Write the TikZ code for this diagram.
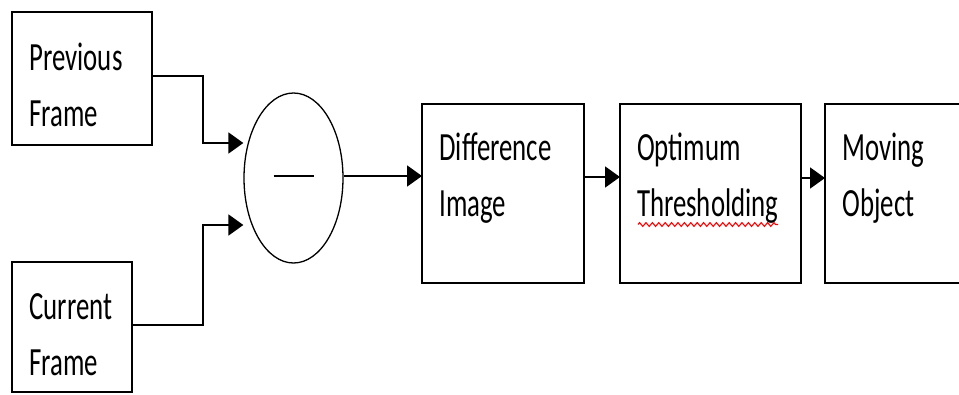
\documentclass[tikz,border=0pt]{standalone}
\usepackage{fontspec}
\setmainfont{Carlito}[FakeStretch=0.67]
\usetikzlibrary{arrows.meta,calc,shapes.geometric,decorations.pathmorphing}

\begin{document}
\begin{tikzpicture}[x=1pt,y=-1pt,
  block/.style={draw=black, line width=2pt, rectangle, anchor=north west,
                inner sep=0pt, outer sep=0pt},
  lbl/.style={anchor=base west, inner sep=0pt, outer sep=0pt,
              font=\fontsize{40}{56}\selectfont},
  wire/.style={draw=black, line width=2pt},
  flow/.style={wire, -{Triangle[length=15pt,width=21pt]}},
  squiggle/.style={draw=red, line width=1.1pt, decorate,
                   decoration={zigzag, segment length=6.4pt, amplitude=1.9pt}}]
\useasboundingbox (0,0) rectangle (959,394);
\clip (0,0) rectangle (959,394);

% input frames
\node[block, minimum width=140pt, minimum height=133pt] (prev) at (12,12) {};
\node[block, minimum width=120pt, minimum height=130pt] (curr) at (12,262) {};

% subtraction stage
\node[draw=black, line width=1.3pt, ellipse, inner sep=0pt,
      minimum width=99pt, minimum height=170pt] (ell) at (293.5,178) {};
\draw[line width=2pt] ($(ell.center)+(-20,-2)$) -- ($(ell.center)+(20,-2)$);

% processing chain
\node[block, minimum width=162pt, minimum height=179pt] (diff) at (422,104) {};
\node[block, minimum width=181pt, minimum height=179pt] (opt) at (620,104) {};
\node[block, minimum width=160pt, minimum height=179pt] (mov) at (825,104) {};

% labels
\node[lbl] (prevA) at ($(prev.north west)+(17.5,58)$) {Previous};
\node[lbl] (prevB) at ($(prevA.base west)+(0,56)$) {Frame};
\node[lbl] (currA) at ($(curr.north west)+(17.5,57)$) {Current};
\node[lbl] (currB) at ($(currA.base west)+(0,56)$) {Frame};
\node[lbl] (diffA) at ($(diff.north west)+(17.5,56.5)$) {Difference};
\node[lbl] (diffB) at ($(diffA.base west)+(0,56)$) {Image};
\node[lbl] (optA) at ($(opt.north west)+(17,56.5)$) {Optimum};
\node[lbl] (optB) at ($(optA.base west)+(0,56)$) {Thresholding};
\node[lbl] (movA) at ($(mov.north west)+(17.5,56.5)$) {Moving};
\node[lbl] (movB) at ($(movA.base west)+(0,56)$) {Object};

% spell-check underline
\draw[squiggle] ($(optB.base west)+(1,8)$) -- ($(optB.base east)+(0,8)$);

% connectors into the subtraction stage
\coordinate (j1) at (203,143);
\coordinate (j2) at (203,225);
\draw[flow] ($(prev.east)+(0,-2.5)$) -| (j1) -- (j1 -| ell.west);
\draw[flow] ($(curr.east)+(0,-2)$) -| (j2) -- (j2 -| ell.west);

% main chain
\coordinate (o1) at (ell.east |- 0,176);
\draw[flow] (o1) -- (o1 -| diff.west);
\coordinate (o2) at (diff.east |- 0,177);
\draw[flow] (o2) -- (o2 -| opt.west);
\coordinate (o3) at (opt.east |- 0,178);
\draw[flow] (o3) -- (o3 -| mov.west);
\end{tikzpicture}
\end{document}
